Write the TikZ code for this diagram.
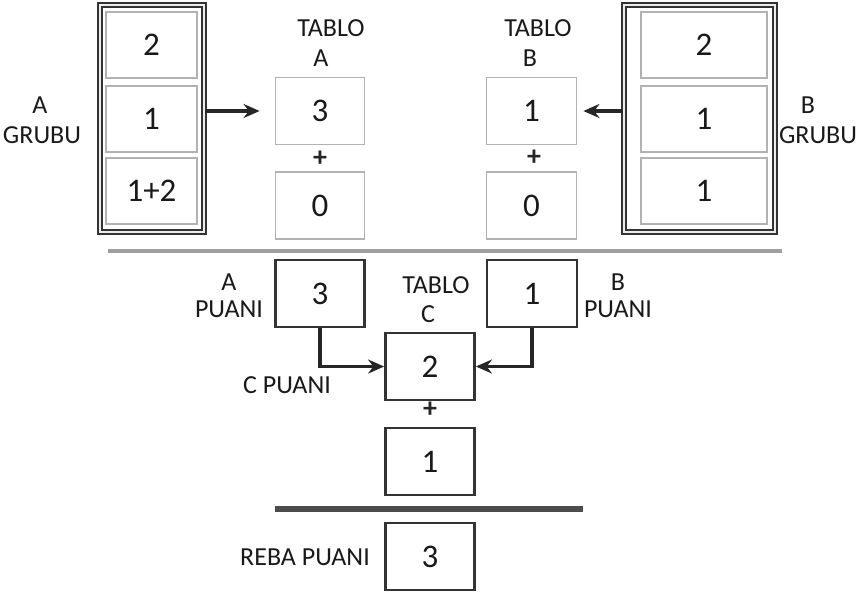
\documentclass[tikz,border=0pt]{standalone}
\usepackage{fontspec}
\setmainfont{Carlito}
\usetikzlibrary{arrows.meta}
\begin{document}
\begin{tikzpicture}[x=0.5pt,y=-0.5pt,
  lbl/.style={inner sep=0pt, font=\fontsize{13}{15}\selectfont, text=black!90},
  num/.style={font=\fontsize{16.5}{18}\selectfont, text=black!90},
  plus/.style={inner sep=0pt, font=\fontsize{14}{16}\selectfont\bfseries, text=black!85},
  cell/.style={draw=gray!60, line width=1pt, inner sep=0pt, minimum height=33pt},
  outer/.style={draw=black!80, double=gray!15, double distance=0.6pt, line width=1pt, inner sep=0pt},
  tbox/.style={draw=gray!60, line width=0.9pt, inner sep=0pt, minimum width=44.5pt, minimum height=33.5pt},
  pbox/.style={draw=black!80, line width=1.4pt, inner sep=0pt, minimum width=44.5pt, minimum height=33.5pt},
  arr/.style={draw=black!85, line width=1.7pt, -{Stealth[length=8pt,width=7pt]}},
  sep1/.style={draw=gray!75, line width=1.6pt},
  sep2/.style={draw=black!70, line width=2.6pt}]
\useasboundingbox (0,0) rectangle (860,591);
% group A
\node[outer, minimum width=52pt, minimum height=113.5pt] (AG) at (152,118.5) {};
\node[cell, minimum width=45.5pt, num] (A1) at (151.5,45) {2};
\node[cell, minimum width=45.5pt, num] (A2) at (151.5,118.5) {1};
\node[cell, minimum width=45.5pt, num] (A3) at (151.5,190.5) {1+2};
% group B
\node[outer, minimum width=75.5pt, minimum height=113.5pt] (BG) at (699.5,118.5) {};
\node[cell, minimum width=63pt, num] (B1) at (704,45) {2};
\node[cell, minimum width=63pt, num] (B2) at (704,119) {1};
\node[cell, minimum width=63pt, num] (B3) at (704,191) {1};
% labels groups
\node[lbl] (lA1) at (40,105) {A};
\node[lbl] (lA2) at (42,135) {GRUBU};
\node[lbl] (lB1) at (808,105) {B};
\node[lbl] (lB2) at (818,135) {GRUBU};
% tablo A
\node[lbl] (tA1) at (331,28) {TABLO};
\node[lbl] (tA2) at (321,58) {A};
\node[tbox, num] (TA) at (320,111) {3};
\node[plus] (pA) at (320,159) {+};
\node[tbox, num] (TA2) at (320,205.5) {0};
% tablo B
\node[lbl] (tB1) at (538,28) {TABLO};
\node[lbl] (tB2) at (530,58) {B};
\node[tbox, num, minimum width=45pt] (TB) at (531.5,111) {1};
\node[plus] (pB) at (534,158) {+};
\node[tbox, num, minimum width=45pt] (TB2) at (531.5,205.5) {0};
% arrows top
\draw[arr, shorten >=7.5pt] (AG.east |- TA.west) -- (TA.west);
\draw[arr, shorten >=3pt] (BG.west |- TB.east) -- (TB.east);
% separator 1
\draw[sep1] (108,251) -- (782,251);
% puani boxes
\node[pbox, num] (AP) at (320,293.5) {3};
\node[pbox, num, minimum width=45pt] (BP) at (532,293.5) {1};
\node[lbl] (aP1) at (229,282) {A};
\node[lbl] (aP2) at (229,309) {PUANI};
\node[lbl] (bP1) at (618,282) {B};
\node[lbl] (bP2) at (618,309) {PUANI};
\node[lbl] (tC1) at (436,285) {TABLO};
\node[lbl] (tC2) at (428,314) {C};
% tablo C
\node[pbox, num] (TC) at (430,366.5) {2};
\node[lbl] (cP) at (287,385) {C PUANI};
\draw[arr] (AP.south) |- (TC.west);
\draw[arr] (BP.south) |- (TC.east);
\node[plus] (pC) at (430,410) {+};
\node[pbox, num] (TC2) at (430,461.5) {1};
% separator 2
\draw[sep2] (275,509) -- (583,509);
% result
\node[pbox, num] (R) at (430,556.5) {3};
\node[lbl] (rl) at (305,557) {REBA PUANI};
\end{tikzpicture}
\end{document}
